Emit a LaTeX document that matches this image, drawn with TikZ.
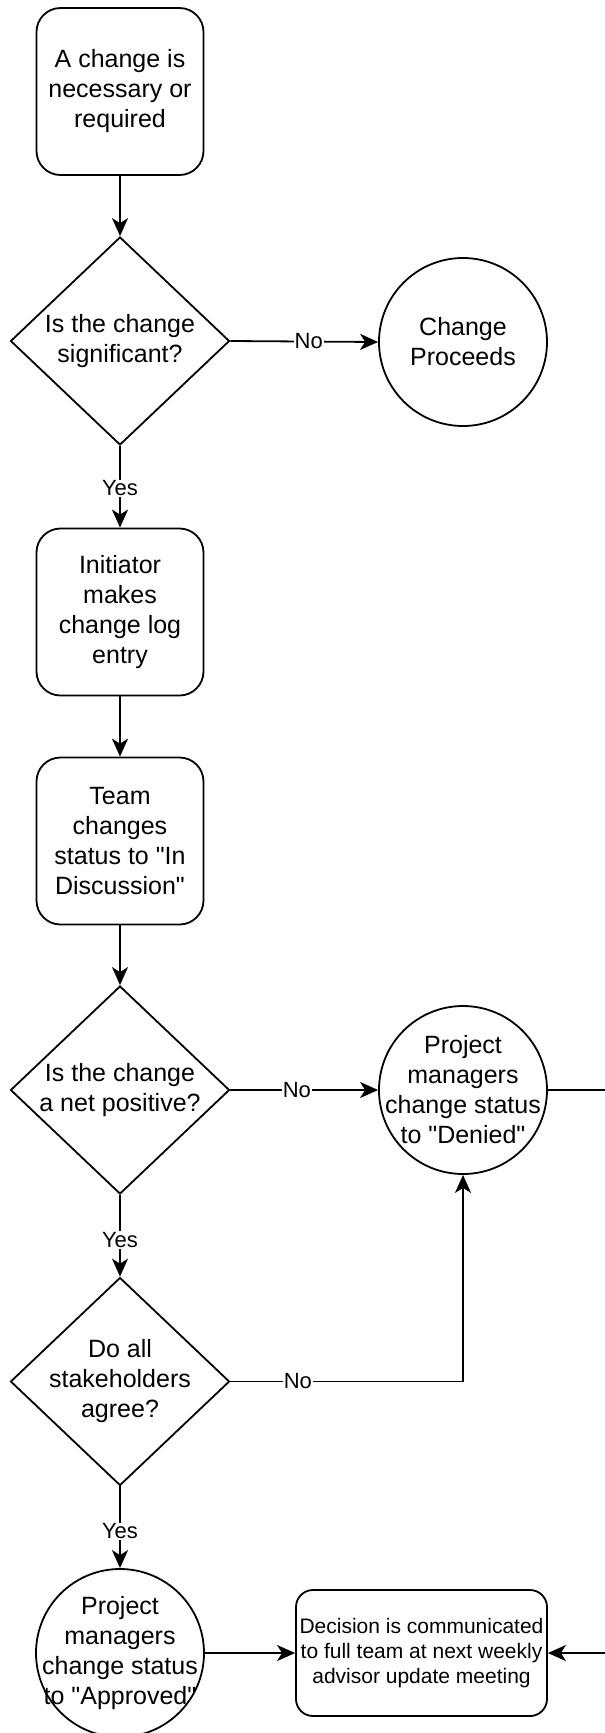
\documentclass[tikz,border=0pt]{standalone}
\usepackage{fontspec}
\setmainfont{Liberation Sans}[Ligatures=TeXOff]
\usetikzlibrary{shapes.geometric,arrows.meta}
\tikzset{
  base/.style={draw=black, line width=1.8pt, align=center, font=\fontsize{25}{30}\selectfont},
  stepbox/.style={base, rectangle, rounded corners=24pt, minimum width=167pt, minimum height=167pt, inner sep=0pt},
  decision/.style={base, diamond, aspect=1.05, minimum width=219pt, minimum height=208pt, inner sep=-20pt},
  terminal/.style={base, circle, minimum size=168pt, inner sep=-40pt},
  finalbox/.style={base, rectangle, rounded corners=17pt, minimum width=251pt, minimum height=126pt, inner sep=0pt, font=\fontsize{21}{25}\selectfont},
  conn/.style={line width=1.8pt, -{Stealth[length=18pt, width=16pt, inset=5pt]}},
  lbl/.style={fill=white, inner sep=1pt, font=\fontsize{22}{25}\selectfont}
}
\begin{document}
\begin{tikzpicture}[x=1pt, y=-1pt]
\useasboundingbox (0,0) rectangle (605,1733);
\clip (0,0) rectangle (605,1733);
\fill[white] (0,0) rectangle (605,1733);

\node[stepbox] (start) at (120,91.5) {A change is\\necessary or\\required};
\node[decision] (d1) at (120,341) {Is the change\\significant?};
\node[terminal] (proceeds) at (463,342) {Change\\Proceeds};
\node[stepbox] (init) at (120,612) {Initiator\\makes\\change log\\entry};
\node[stepbox] (team) at (120,841) {Team\\changes\\status to "In\\Discussion"};
\node[decision] (d2) at (120,1090) {Is the change\\a net positive?};
\node[terminal] (denied) at (463,1090) {Project\\managers\\change status\\to "Denied"};
\node[decision] (d3) at (120,1381.5) {Do all\\stakeholders\\agree?};
\node[terminal] (approved) at (120,1653) {Project\\managers\\change status\\to "Approved"};
\node[finalbox] (final) at (421.5,1653) {Decision is communicated\\to full team at next weekly\\advisor update meeting};
\coordinate (rt) at (640,1090);

\draw[conn] (start) -- (d1);
\draw[conn] (d1.east) -- (proceeds.west) node[lbl, pos=0.53] {No};
\draw[conn] (d1.south) -- (init.north) node[lbl, pos=0.52] {Yes};
\draw[conn] (init) -- (team);
\draw[conn] (team) -- (d2.north);
\draw[conn] (d2.east) -- (denied.west) node[lbl, pos=0.45] {No};
\draw[conn] (d2.south) -- (d3.north) node[lbl, pos=0.55] {Yes};
\draw[conn] (d3.east) -| (denied.south) node[lbl, pos=0.145] {No};
\draw[conn] (d3.south) -- (approved.north) node[lbl, pos=0.55] {Yes};
\draw[conn] (approved.east) -- (final.west);
\draw[conn] (denied.east) -- (rt) |- (final.east);
\end{tikzpicture}
\end{document}
